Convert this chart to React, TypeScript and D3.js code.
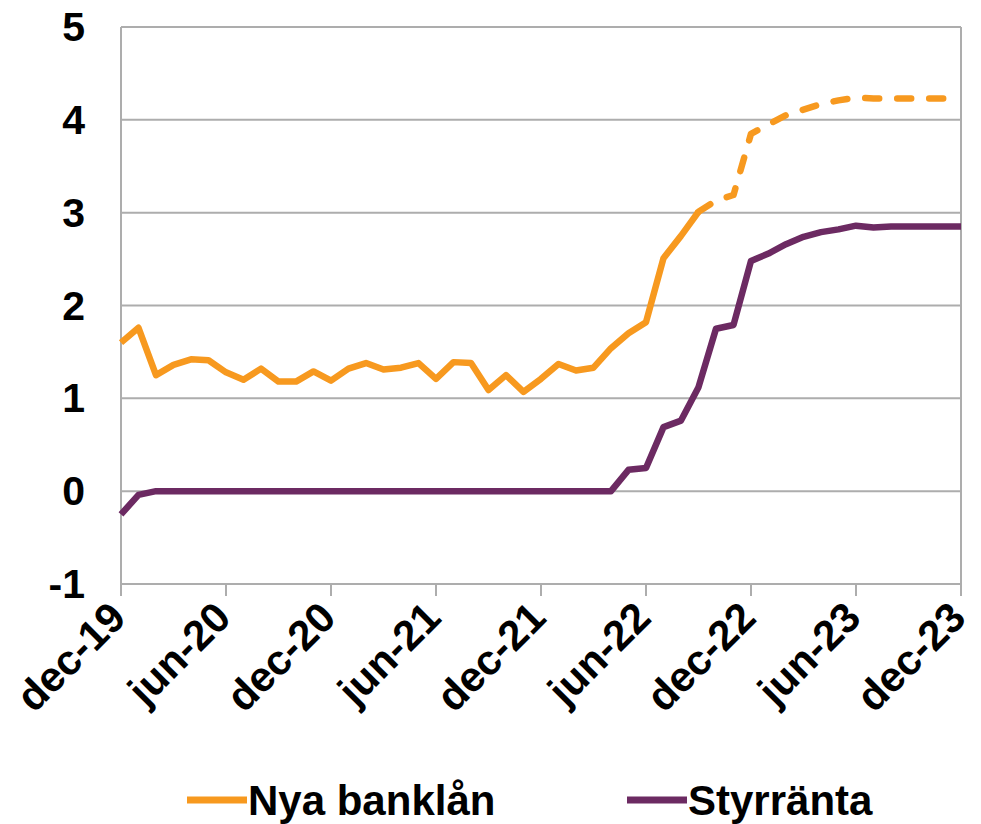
import React, { useEffect, useRef } from "react";
import * as d3 from "d3";

// monthly values, dec-19 .. dec-23 (49 months)
const nyaBanklan = [
  1.60, 1.76, 1.25, 1.36, 1.42, 1.41, 1.28, 1.20, 1.32, 1.18, 1.18, 1.29,
  1.19, 1.32, 1.38, 1.31, 1.33, 1.38, 1.21, 1.39, 1.38, 1.09, 1.25, 1.07,
  1.21, 1.37, 1.30, 1.33, 1.54, 1.70, 1.82, 2.51, 2.75, 3.01, 3.13, 3.19,
  3.85, 3.95, 4.05, 4.11, 4.17, 4.21, 4.24, 4.23, 4.23, 4.23, 4.23, 4.23,
  4.23,
];

const styrranta = [
  -0.25, -0.04, 0, 0, 0, 0, 0, 0, 0, 0, 0, 0,
  0, 0, 0, 0, 0, 0, 0, 0, 0, 0, 0, 0,
  0, 0, 0, 0, 0, 0.23, 0.25, 0.69, 0.76, 1.12, 1.75, 1.79,
  2.48, 2.56, 2.66, 2.74, 2.79, 2.82, 2.86, 2.84, 2.85, 2.85, 2.85, 2.85,
  2.85,
];

// index where the bank loan series turns into a forecast (dashed)
const forecastFrom = 33;

const tickLabels = ["dec-19", "jun-20", "dec-20", "jun-21", "dec-21", "jun-22", "dec-22", "jun-23", "dec-23"];
const yTicks = [-1, 0, 1, 2, 3, 4, 5];

const ORANGE = "#F7991F";
const PURPLE = "#6C2A62";
const GRID = "#ADADAD";
const FONT = "'Liberation Sans', Arial, sans-serif";

export default function App() {
  const ref = useRef<SVGSVGElement>(null);

  useEffect(() => {
    const svg = d3.select(ref.current);
    svg.selectAll("*").remove();

    const margin = { top: 27, left: 121, right: 20, bottom: 240 };
    const width = 981;
    const height = 824;

    const x = d3.scaleLinear().domain([0, nyaBanklan.length - 1]).range([margin.left, width - margin.right]);
    const y = d3.scaleLinear().domain([-1, 5]).range([height - margin.bottom, margin.top]);

    // horizontal gridlines
    svg.append("g")
      .selectAll("line")
      .data(yTicks)
      .join("line")
      .attr("x1", margin.left)
      .attr("x2", width - margin.right)
      .attr("y1", d => y(d))
      .attr("y2", d => y(d))
      .attr("stroke", GRID)
      .attr("stroke-width", 2);

    // left axis and right border
    [margin.left, width - margin.right].forEach(px => {
      svg.append("line")
        .attr("x1", px).attr("x2", px)
        .attr("y1", y(5)).attr("y2", y(-1))
        .attr("stroke", GRID)
        .attr("stroke-width", 2);
    });

    // y labels
    svg.append("g")
      .selectAll("text")
      .data(yTicks)
      .join("text")
      .attr("x", 85)
      .attr("y", d => y(d) + 14)
      .attr("text-anchor", "end")
      .attr("font-family", FONT)
      .attr("font-weight", "bold")
      .attr("font-size", 41)
      .text(d => d);

    // x ticks every 6 months
    const tickIdx = tickLabels.map((_, i) => i * 6);
    svg.append("g")
      .selectAll("line")
      .data(tickIdx)
      .join("line")
      .attr("x1", d => x(d)).attr("x2", d => x(d))
      .attr("y1", y(-1)).attr("y2", y(-1) + 12)
      .attr("stroke", GRID)
      .attr("stroke-width", 2);

    svg.append("g")
      .selectAll("text")
      .data(tickLabels)
      .join("text")
      .attr("transform", (_, i) => `translate(${x(tickIdx[i]) + 7}, ${y(-1) + 36}) rotate(-45)`)
      .attr("text-anchor", "end")
      .attr("font-family", FONT)
      .attr("font-weight", "bold")
      .attr("font-size", 42)
      .text(d => d);

    // styrränta
    const line = d3.line<number>()
      .x((_, i) => x(i))
      .y(d => y(d));

    svg.append("path")
      .attr("d", line(styrranta))
      .attr("fill", "none")
      .attr("stroke", PURPLE)
      .attr("stroke-width", 6.5)
      .attr("stroke-linejoin", "round");

    // nya banklån, solid part then dashed forecast
    const solid = d3.line<number>()
      .defined((_, i) => i <= forecastFrom)
      .x((_, i) => x(i))
      .y(d => y(d));
    const dashed = d3.line<number>()
      .defined((_, i) => i >= forecastFrom)
      .x((_, i) => x(i))
      .y(d => y(d));

    svg.append("path")
      .attr("d", solid(nyaBanklan))
      .attr("fill", "none")
      .attr("stroke", ORANGE)
      .attr("stroke-width", 6.5)
      .attr("stroke-linejoin", "round");

    svg.append("path")
      .attr("d", dashed(nyaBanklan))
      .attr("fill", "none")
      .attr("stroke", ORANGE)
      .attr("stroke-width", 6.5)
      .attr("stroke-linejoin", "round")
      .attr("stroke-linecap", "round")
      .attr("stroke-dasharray", "14 18");

    // legend
    const legend = [
      { name: "Nya banklån", color: ORANGE, x: 187 },
      { name: "Styrränta", color: PURPLE, x: 627 },
    ];
    const lg = svg.append("g")
      .selectAll("g")
      .data(legend)
      .join("g")
      .attr("transform", d => `translate(${d.x}, 800)`);
    lg.append("line")
      .attr("x1", 0).attr("x2", 60)
      .attr("stroke", d => d.color)
      .attr("stroke-width", 7);
    lg.append("text")
      .attr("x", 61)
      .attr("y", 15)
      .attr("font-family", FONT)
      .attr("font-weight", "bold")
      .attr("font-size", 42)
      .text(d => d.name);
  }, []);

  return (
    <svg
      ref={ref}
      width={981}
      height={824}
      style={{ position: "absolute", left: 0, top: 0, background: "#fff" }}
    />
  );
}
